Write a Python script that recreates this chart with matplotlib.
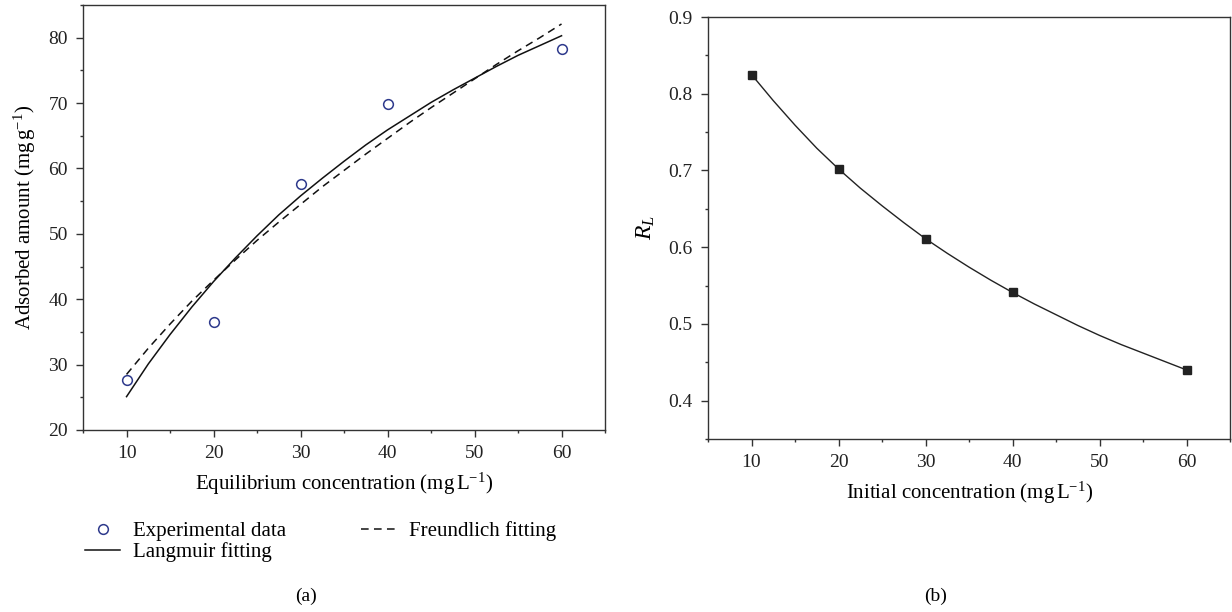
import numpy as np
import matplotlib
matplotlib.use("Agg")
import matplotlib.pyplot as plt
from matplotlib.ticker import MultipleLocator

plt.rcParams['font.family'] = ['Liberation Serif', 'DejaVu Serif']
plt.rcParams['mathtext.fontset'] = 'custom'
plt.rcParams['mathtext.rm'] = 'Liberation Serif'
plt.rcParams['mathtext.it'] = 'Liberation Serif:italic'

# (a) isotherm data
ce_exp = [10, 20, 30, 40, 60]
q_exp = [27.7, 36.5, 57.7, 69.8, 78.2]
ce_fit = [10, 12.5, 15, 17.5, 20, 22.5, 25, 27.5, 30, 32.5, 35,
          37.5, 40, 42.5, 45, 47.5, 50, 52.5, 55, 57.5, 60]
q_langmuir = [25.1, 30.1, 34.6, 38.8, 42.7, 46.3, 49.7, 52.9, 55.8, 58.5, 61.1,
              63.6, 65.9, 68.0, 70.1, 72.0, 73.8, 75.6, 77.3, 78.8, 80.3]
q_freundlich = [28.5, 32.5, 36.2, 39.7, 42.9, 46.0, 49.0, 51.8, 54.5, 57.2, 59.7,
                62.2, 64.6, 67.0, 69.3, 71.5, 73.7, 75.9, 78.0, 80.0, 82.1]

# (b) separation factor
c0 = [10, 20, 30, 40, 60]
rl = [0.825, 0.702, 0.611, 0.541, 0.440]
c0_fit = [10, 12.5, 15, 17.5, 20, 22.5, 25, 27.5, 30, 32.5, 35,
          37.5, 40, 42.5, 45, 47.5, 50, 52.5, 55, 57.5, 60]
rl_fit = [0.825, 0.791, 0.759, 0.729, 0.702, 0.677, 0.654, 0.632, 0.611, 0.592, 0.574,
          0.557, 0.541, 0.526, 0.512, 0.498, 0.485, 0.473, 0.462, 0.451, 0.440]

fig = plt.figure(figsize=(12.32, 6.12), dpi=100)
ax1 = fig.add_axes([0.0674, 0.2974, 0.4237, 0.6944])
ax2 = fig.add_axes([0.5747, 0.2827, 0.4237, 0.6895])

def style(ax):
    for s in ax.spines.values():
        s.set_color('#333333')
        s.set_linewidth(1.0)
    ax.tick_params(which='both', direction='out', top=False, right=False,
                   color='#333333', labelsize=14, labelcolor='#222222')
    ax.tick_params(which='major', length=5, width=1, pad=6)
    ax.tick_params(which='minor', length=2.5, width=1)

# panel a
ax1.plot(ce_exp, q_exp, 'o', mfc='none', mec='#2e3a8c', mew=1.1, ms=7, ls='none',
         label='Experimental data')
ax1.plot(ce_fit, q_langmuir, '-', color='#111111', lw=1.1, label='Langmuir fitting')
ax1.plot(ce_fit, q_freundlich, '--', color='#111111', lw=1.1, dashes=(5, 3.5),
         label='Freundlich fitting')
ax1.set_xlim(5, 65)
ax1.set_ylim(20, 85)
ax1.xaxis.set_major_locator(MultipleLocator(10))
ax1.xaxis.set_minor_locator(MultipleLocator(5))
ax1.yaxis.set_major_locator(MultipleLocator(10))
ax1.yaxis.set_minor_locator(MultipleLocator(5))
style(ax1)
ax1.set_xlabel('Equilibrium concentration (mg$\\,$L$^{-1}$)', fontsize=15, labelpad=6)
ax1.set_ylabel('Adsorbed amount (mg$\\,$g$^{-1}$)', fontsize=15, labelpad=7)

h, l = ax1.get_legend_handles_labels()
ax1.legend(h, l, ncol=2, loc='upper left', bbox_to_anchor=(85 / 1232, 1 - 521 / 612),
           bbox_transform=fig.transFigure, frameon=False, fontsize=15,
           borderpad=0, borderaxespad=0, handlelength=1.7, handletextpad=0.6,
           labelspacing=0.05, columnspacing=3.6, numpoints=1)

# panel b
ax2.plot(c0_fit, rl_fit, '-', color='#222222', lw=1.0)
ax2.plot(c0, rl, 's', color='#222222', ms=6, ls='none')
ax2.set_xlim(5, 65)
ax2.set_ylim(0.35, 0.9)
ax2.xaxis.set_major_locator(MultipleLocator(10))
ax2.xaxis.set_minor_locator(MultipleLocator(5))
ax2.yaxis.set_major_locator(MultipleLocator(0.1))
ax2.yaxis.set_minor_locator(MultipleLocator(0.05))
style(ax2)
ax2.set_xlabel('Initial concentration (mg$\\,$L$^{-1}$)', fontsize=15, labelpad=6)
ax2.set_ylabel('$R_L$', fontsize=17, labelpad=8)

fig.text(306 / 1232, 1 - 596 / 612, '(a)', ha='center', va='center', fontsize=14)
fig.text(936 / 1232, 1 - 596 / 612, '(b)', ha='center', va='center', fontsize=14)

fig.savefig('out.png', dpi=100)
